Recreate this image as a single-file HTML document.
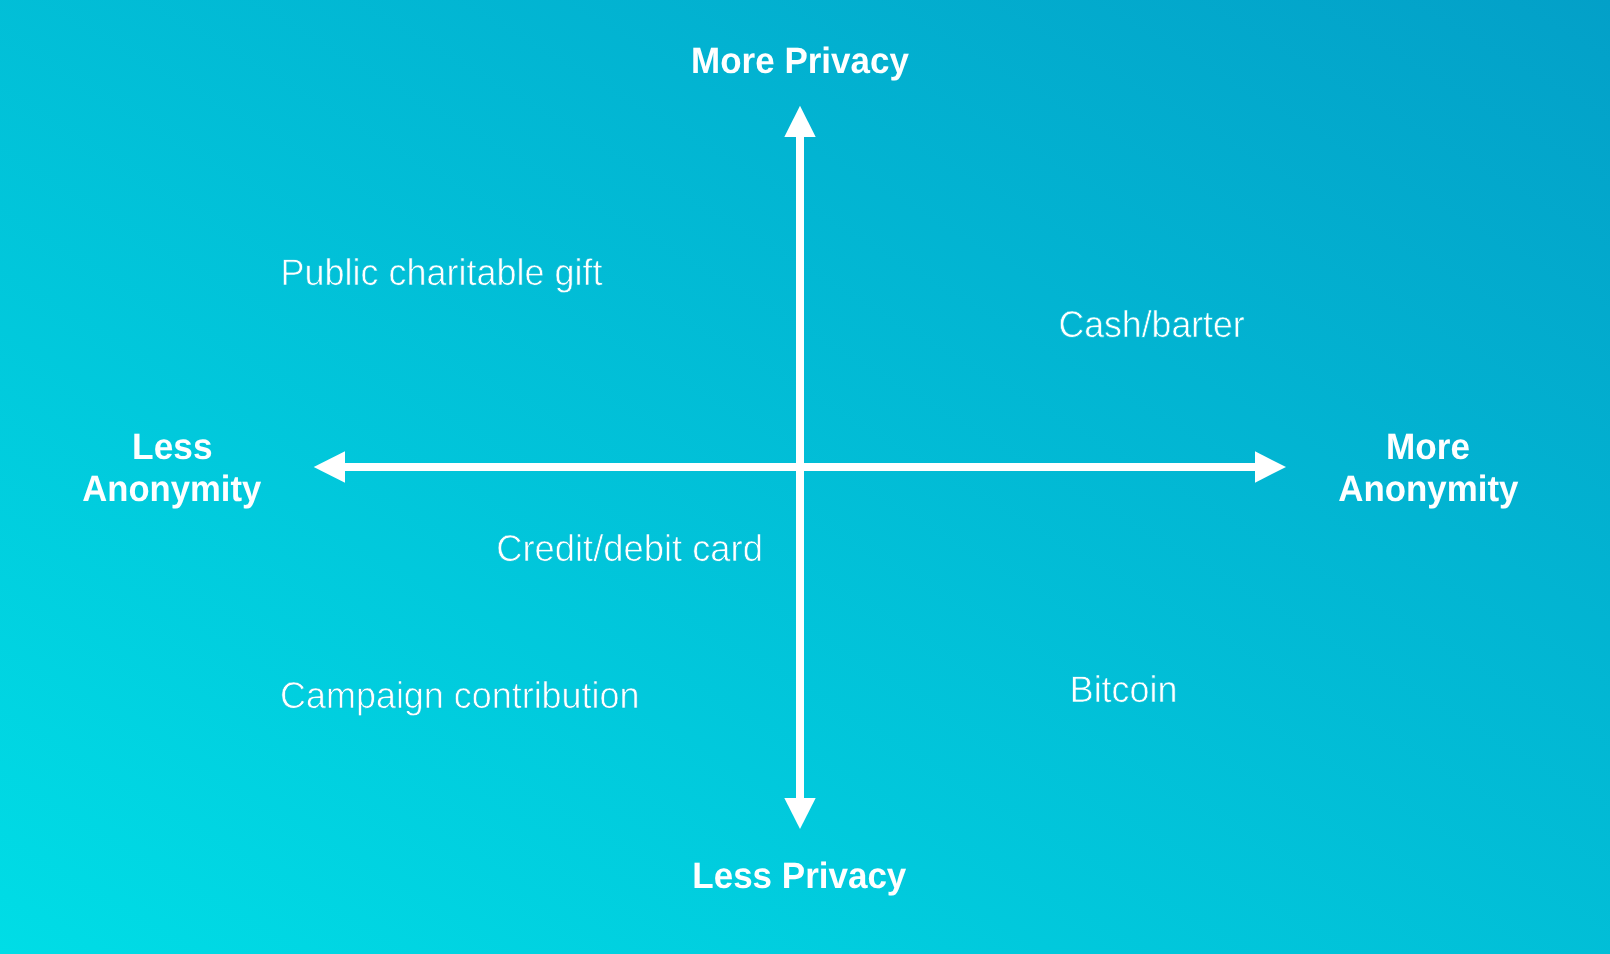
<!DOCTYPE html>
<html>
<head>
<meta charset="utf-8">
<style>
html,body{margin:0;padding:0;background:#00bcd8;}
body{width:1610px;height:954px;overflow:hidden;}
svg{display:block;will-change:transform;}
text{font-family:"Liberation Sans",sans-serif;fill:#fff;text-rendering:geometricPrecision;}
.b{font-weight:bold;font-size:36.55px;}
.l{font-weight:normal;font-size:37.2px;stroke:url(#g);stroke-width:0.65px;}
</style>
</head>
<body>
<svg width="1610" height="954" viewBox="0 0 1610 954">
<defs>
<linearGradient id="g" gradientUnits="userSpaceOnUse" x1="386.61" y1="1183.09" x2="1223.39" y2="-229.09">
<stop offset="0" stop-color="#00dde6"/><stop offset="1" stop-color="#03a0c8"/>
</linearGradient>
</defs>
<rect x="0" y="0" width="1610" height="954" fill="url(#g)"/>
<g fill="#fff">
<rect x="796" y="130" width="8" height="675"/>
<rect x="338" y="463" width="924" height="8"/>
<polygon points="800,105.8 784.3,137 815.7,137"/>
<polygon points="800,829.1 784.3,798 815.7,798"/>
<polygon points="313.7,467 345,451.3 345,482.7"/>
<polygon points="1286,467 1255,451.3 1255,482.7"/>
</g>
<text class="b" transform="translate(691.10 72.60) scale(0.9570 1)" >More Privacy</text>
<text class="b" transform="translate(692.30 888.00) scale(0.9576 1)" >Less Privacy</text>
<text class="b" transform="translate(132.10 459.30) scale(0.9655 1)" >Less</text>
<text class="b" transform="translate(82.30 501.40) scale(0.9476 1)" >Anonymity</text>
<text class="b" transform="translate(1386.10 459.30) scale(0.9606 1)" >More</text>
<text class="b" transform="translate(1338.20 501.40) scale(0.9542 1)" >Anonymity</text>
<text class="l" transform="translate(280.50 284.80) scale(0.9676 1)" >Public charitable gift</text>
<text class="l" transform="translate(1058.50 336.90) scale(0.9580 1)" >Cash/barter</text>
<text class="l" transform="translate(496.20 560.80) scale(0.9775 1)" >Credit/debit card</text>
<text class="l" transform="translate(280.10 707.50) scale(0.9658 1)" >Campaign contribution</text>
<text class="l" transform="translate(1069.70 701.80) scale(0.9648 1)" >Bitcoin</text>
</svg>
</body>
</html>
